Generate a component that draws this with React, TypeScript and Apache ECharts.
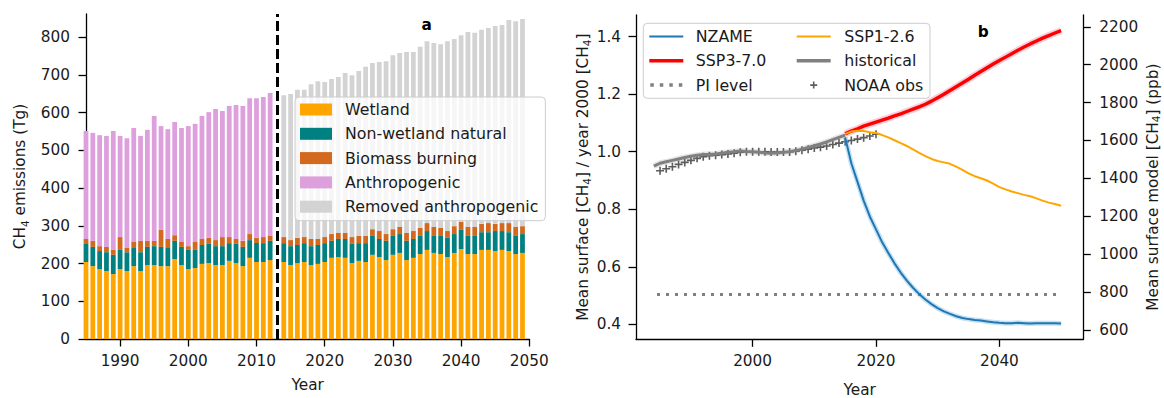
import React, { useEffect, useRef } from "react";
import * as echarts from "echarts";

const range = (a: number, b: number) => {
  const r: number[] = [];
  for (let i = a; i <= b; i++) r.push(i);
  return r;
};

// ---------- Panel a: CH4 emissions (Tg) ----------
const emissionYears = range(1985, 2050).map(String);
// historical years 1985-2012
const wetlandHist = [204, 193, 185, 180, 172, 185, 180, 193, 180, 196, 196, 193, 193, 212, 196, 185, 188, 199, 201, 196, 196, 207, 201, 193, 215, 204, 204, 209];
const nonWetlandHist = [48, 51, 48, 50, 51, 51, 50, 48, 50, 48, 50, 51, 48, 48, 48, 51, 48, 50, 51, 50, 50, 47, 51, 51, 47, 50, 50, 51];
const biomassHist = [13, 16, 13, 14, 13, 34, 11, 16, 30, 16, 14, 45, 24, 15, 13, 10, 21, 16, 16, 16, 24, 16, 13, 16, 16, 14, 16, 13];
const anthropogenicHist = [286, 286, 294, 294, 315, 268, 291, 302, 278, 294, 331, 275, 291, 300, 302, 318, 313, 326, 333, 347, 334, 347, 355, 357, 360, 370, 371, 379];
// projection years 2014-2049
const wetlandProj = [204, 196, 201, 204, 196, 199, 204, 215, 217, 215, 201, 207, 204, 223, 217, 209, 223, 228, 209, 215, 225, 236, 228, 225, 217, 228, 238, 225, 225, 236, 236, 233, 236, 233, 225, 228];
const nonWetlandProj = [50, 50, 48, 50, 50, 50, 50, 45, 48, 50, 51, 47, 50, 50, 48, 51, 50, 50, 51, 50, 48, 50, 45, 48, 51, 50, 51, 48, 48, 47, 47, 53, 50, 50, 48, 50];
const biomassProj = [16, 16, 19, 16, 19, 16, 16, 18, 16, 16, 18, 19, 19, 18, 21, 18, 18, 19, 21, 21, 21, 21, 24, 21, 18, 21, 21, 24, 24, 22, 24, 19, 21, 24, 24, 21];
const removedAnthropogenicProj = [376, 387, 392, 390, 410, 418, 411, 411, 413, 424, 429, 437, 448, 440, 448, 458, 461, 461, 479, 474, 480, 482, 487, 487, 503, 496, 495, 516, 514, 514, 517, 524, 525, 538, 545, 549];
const emissionTicks = [0, 100, 200, 300, 400, 500, 600, 700, 800];
const scenarioStartYear = "2013";

// ---------- Panel b: mean surface CH4 ----------
const obsYears = range(1985, 2020);
const noaaObs = [0.934, 0.941, 0.948, 0.956, 0.963, 0.970, 0.977, 0.983, 0.986, 0.988, 0.990, 0.992, 0.995, 0.998, 1.000, 1.000, 1.000, 1.000, 0.999, 0.999, 0.999, 0.999, 1.002, 1.005, 1.009, 1.013, 1.016, 1.020, 1.025, 1.030, 1.035, 1.039, 1.044, 1.049, 1.055, 1.061];
const histYears = range(1984, 2015);
const historical = [0.950, 0.960, 0.965, 0.970, 0.975, 0.980, 0.984, 0.988, 0.990, 0.990, 0.992, 0.995, 0.998, 1.000, 1.003, 1.001, 1.000, 0.998, 0.996, 0.995, 0.996, 0.998, 1.000, 1.004, 1.009, 1.015, 1.021, 1.027, 1.034, 1.042, 1.050, 1.058];
const scenYears = range(2015, 2050);
const nzame = [1.050, 0.960, 0.895, 0.830, 0.775, 0.730, 0.685, 0.648, 0.612, 0.580, 0.552, 0.527, 0.505, 0.486, 0.470, 0.456, 0.445, 0.436, 0.428, 0.422, 0.418, 0.415, 0.413, 0.410, 0.407, 0.405, 0.404, 0.404, 0.405, 0.404, 0.403, 0.404, 0.404, 0.404, 0.404, 0.403];
const ssp370 = [1.062, 1.072, 1.080, 1.089, 1.096, 1.103, 1.110, 1.117, 1.125, 1.132, 1.140, 1.148, 1.156, 1.165, 1.176, 1.188, 1.200, 1.213, 1.226, 1.239, 1.252, 1.266, 1.279, 1.292, 1.305, 1.317, 1.329, 1.341, 1.353, 1.364, 1.375, 1.385, 1.395, 1.404, 1.413, 1.421];
const ssp126 = [1.062, 1.070, 1.073, 1.072, 1.068, 1.065, 1.058, 1.050, 1.040, 1.030, 1.020, 1.008, 0.996, 0.985, 0.975, 0.968, 0.963, 0.958, 0.948, 0.937, 0.925, 0.915, 0.908, 0.900, 0.889, 0.877, 0.869, 0.862, 0.856, 0.850, 0.845, 0.838, 0.830, 0.823, 0.818, 0.812];
const piLevel = 0.504;
const piYears = [1984.5, 2049.5];
const ratioTicks = [0.4, 0.6, 0.8, 1.0, 1.2, 1.4];
const ppbTicks = [600, 800, 1000, 1200, 1400, 1600, 1800, 2000, 2200];
const yearTicksB = [2000, 2020, 2040];

const pairs = (xs: number[], ys: number[]) => xs.map((x, i) => [x, ys[i]]);
const nulls = (n: number) => Array(n).fill(null);

const TXT = "#1a1a1a";
const FS = 15.3;
const LFS = 15.8;
const FONT = "DejaVu Sans";
const axisLineStyle = { color: "#000", width: 1.3 };
const plain = (v: number) => String(v);

const lineIcon = (t: number) => `path://M0,0M34,12M0,${6 - t / 2}h34v${t}h-34z`;
const dotIcon = "path://M0,0M34,12M1,4.25h3.5v3.5h-3.5zM10.5,4.25h3.5v3.5h-3.5zM20,4.25h3.5v3.5h-3.5zM29.5,4.25h3.5v3.5h-3.5z";
const plusIcon = "path://M0,0M34,12M13.5,5.2h7v1.6h-7zM16.2,2.5h1.6v7h-1.6z";
const plusSymbol = "path://M0,3.2h8v1.6h-8zM3.2,0h1.6v8h-1.6z";

const richName = {
  n: { fontSize: FS, lineHeight: 20, color: TXT, fontFamily: FONT },
  s: { fontSize: 10.5, lineHeight: 12, verticalAlign: "bottom", color: TXT, fontFamily: FONT },
};
const richNameTight = {
  n: { fontSize: FS, lineHeight: 16, color: TXT, fontFamily: FONT },
  s: { fontSize: 10.5, lineHeight: 9, verticalAlign: "bottom", color: TXT, fontFamily: FONT },
};

export default function App() {
  const ref = useRef<HTMLDivElement>(null);
  useEffect(() => {
    if (!ref.current) return;
    const chart = echarts.init(ref.current, undefined, { renderer: "svg" });

    const wetland = [...wetlandHist, null, ...wetlandProj, null];
    const nonWetland = [...nonWetlandHist, null, ...nonWetlandProj, null];
    const biomass = [...biomassHist, null, ...biomassProj, null];
    const anthropogenic = [...anthropogenicHist, ...nulls(38)];
    const removed = [...nulls(29), ...removedAnthropogenicProj, null];

    const every10 = (_i: number, v: string) => Number(v) % 10 === 0;

    const barBase = {
      type: "bar",
      stack: "total",
      xAxisIndex: 0,
      yAxisIndex: 0,
      barWidth: "70%",
      clip: true,
      silent: true,
    };

    const option: any = {
      animation: false,
      textStyle: { fontFamily: FONT, color: TXT },
      grid: [
        { left: 86, right: 634.7, top: 14, bottom: 59, containLabel: false, outerBoundsMode: "none" },
        { left: 636, right: 80.7, top: 15, bottom: 58.7, containLabel: false, outerBoundsMode: "none" },
      ],
      xAxis: [
        {
          type: "category",
          gridIndex: 0,
          data: emissionYears,
          boundaryGap: false,
          axisLine: { lineStyle: axisLineStyle },
          axisTick: { interval: every10, length: 7.5, lineStyle: axisLineStyle },
          axisLabel: { interval: every10, margin: 14, fontSize: FS, color: TXT },
          splitLine: { show: false },
          name: "Year",
          nameLocation: "middle",
          nameGap: 38,
          nameTextStyle: { fontSize: FS, color: TXT },
        },
        {
          type: "value",
          gridIndex: 1,
          min: 1981.1,
          max: 2053.6,
          axisLine: { show: true, lineStyle: axisLineStyle },
          axisTick: { show: true, customValues: yearTicksB, length: 7.5, lineStyle: axisLineStyle },
          axisLabel: { customValues: yearTicksB, margin: 14, fontSize: FS, color: TXT, formatter: plain },
          splitLine: { show: false },
          name: "Year",
          nameLocation: "middle",
          nameGap: 43.5,
          nameTextStyle: { fontSize: FS, lineHeight: 14, color: TXT },
        },
      ],
      yAxis: [
        {
          type: "value",
          gridIndex: 0,
          min: 0,
          max: 861,
          axisLine: { show: true, lineStyle: axisLineStyle },
          axisTick: { show: true, customValues: emissionTicks, length: 7.5, lineStyle: axisLineStyle },
          axisLabel: { customValues: emissionTicks, margin: 16, fontSize: FS, color: TXT, formatter: plain },
          splitLine: { show: false },
          name: "{n|CH}{s|4}{n| emissions (Tg)}",
          nameLocation: "middle",
          nameRotate: 90,
          nameGap: 56,
          nameTextStyle: { rich: richName },
        },
        {
          type: "value",
          gridIndex: 1,
          position: "left",
          min: 0.3478,
          max: 1.4755,
          axisLine: { show: true, lineStyle: axisLineStyle },
          axisTick: { show: true, customValues: ratioTicks, length: 7.5, lineStyle: axisLineStyle },
          axisLabel: {
            customValues: ratioTicks,
            margin: 15,
            fontSize: FS,
            color: TXT,
            formatter: (v: number) => v.toFixed(1),
          },
          splitLine: { show: false },
          name: "{n|Mean surface [CH}{s|4}{n|] / year 2000 [CH}{s|4}{n|]}",
          nameLocation: "middle",
          nameRotate: 90,
          nameGap: 42,
          nameTextStyle: { rich: richName },
        },
        {
          type: "value",
          gridIndex: 1,
          position: "right",
          min: 551,
          max: 2262,
          axisLine: { show: true, lineStyle: axisLineStyle },
          axisTick: { show: true, customValues: ppbTicks, length: 7.5, lineStyle: axisLineStyle },
          axisLabel: { customValues: ppbTicks, margin: 16, fontSize: FS, color: TXT, formatter: plain },
          splitLine: { show: false },
          name: "{n|Mean surface model [CH}{s|4}{n|] (ppb)}",
          nameLocation: "middle",
          nameRotate: 90,
          nameGap: 62,
          nameTextStyle: { rich: richNameTight, padding: [0, 20, 0, 0] },
        },
      ],
      legend: [
        {
          orient: "vertical",
          left: 295,
          top: 97,
          padding: [4.5, 7, 6, 5],
          itemWidth: 32,
          itemHeight: 12,
          itemGap: 8.3,
          icon: "rect",
          selectedMode: false,
          backgroundColor: "rgba(255,255,255,0.8)",
          borderColor: "#cccccc",
          borderWidth: 1,
          borderRadius: 4,
          itemStyle: { borderWidth: 0 },
          textStyle: { fontSize: LFS, lineHeight: 15, color: TXT, padding: [0, 0, 0, 8] },
          data: ["Wetland", "Non-wetland natural", "Biomass burning", "Anthropogenic", "Removed anthropogenic"],
        },
        {
          orient: "vertical",
          left: 649.3,
          top: 28.5,
          padding: 0,
          itemWidth: 34,
          itemHeight: 12,
          itemGap: 8.3,
          selectedMode: false,
          itemStyle: { borderWidth: 0 },
          textStyle: { fontSize: LFS, lineHeight: 15, color: TXT, padding: [0, 0, 0, 7.5] },
          data: [
            { name: "NZAME", icon: lineIcon(2) },
            { name: "SSP3-7.0", icon: lineIcon(3.4) },
            { name: "PI level", icon: dotIcon },
          ],
        },
        {
          orient: "vertical",
          left: 796.7,
          top: 28.5,
          padding: 0,
          itemWidth: 34,
          itemHeight: 12,
          itemGap: 8.3,
          selectedMode: false,
          itemStyle: { borderWidth: 0 },
          textStyle: { fontSize: LFS, lineHeight: 15, color: TXT, padding: [0, 0, 0, 8.5] },
          data: [
            { name: "SSP1-2.6", icon: lineIcon(2) },
            { name: "historical", icon: lineIcon(3.4) },
            { name: "NOAA obs", icon: plusIcon },
          ],
        },
      ],
      graphic: [
        {
          type: "rect",
          shape: { x: 643.3, y: 23.3, width: 286.7, height: 75, r: 4 },
          style: { fill: "rgba(255,255,255,0.8)", stroke: "#cccccc", lineWidth: 1 },
          z: 1,
        },
        {
          type: "text",
          x: 426.7,
          y: 25.4,
          style: { text: "a", font: `bold ${FS}px "${FONT}"`, fill: "#000", textAlign: "center", textVerticalAlign: "middle" },
          z: 10,
        },
        {
          type: "text",
          x: 983.3,
          y: 32,
          style: { text: "b", font: `bold ${FS}px "${FONT}"`, fill: "#000", textAlign: "center", textVerticalAlign: "middle" },
          z: 10,
        },
      ],
      series: [
        {
          ...barBase,
          name: "Wetland",
          data: wetland,
          itemStyle: { color: "#FFA500" },
          markLine: {
            silent: true,
            symbol: "none",
            label: { show: false },
            lineStyle: { color: "#000", width: 3, type: [10, 4] },
            data: [{ xAxis: scenarioStartYear }],
          },
        },
        { ...barBase, name: "Non-wetland natural", data: nonWetland, itemStyle: { color: "#008080" } },
        { ...barBase, name: "Biomass burning", data: biomass, itemStyle: { color: "#D2691E" } },
        { ...barBase, name: "Anthropogenic", data: anthropogenic, itemStyle: { color: "#DDA0DD" } },
        { ...barBase, name: "Removed anthropogenic", data: removed, itemStyle: { color: "#D3D3D3" } },

        // uncertainty halos
        {
          type: "line", name: "historical range", xAxisIndex: 1, yAxisIndex: 1, silent: true,
          data: pairs(histYears, historical), symbol: "none",
          lineStyle: { color: "rgba(128,128,128,0.2)", width: 6 },
        },
        {
          type: "line", name: "SSP3-7.0 range", xAxisIndex: 1, yAxisIndex: 1, silent: true,
          data: pairs(scenYears, ssp370), symbol: "none",
          lineStyle: { color: "rgba(230,60,110,0.25)", width: 7 },
        },
        {
          type: "line", name: "NZAME range", xAxisIndex: 1, yAxisIndex: 1, silent: true,
          data: pairs(scenYears, nzame), symbol: "none",
          lineStyle: { color: "rgba(90,170,220,0.35)", width: 5 },
        },
        {
          type: "line", name: "historical", xAxisIndex: 1, yAxisIndex: 1, silent: true,
          data: pairs(histYears, historical), symbol: "none",
          itemStyle: { color: "#808080" },
          lineStyle: { color: "#808080", width: 3 },
        },
        {
          type: "line", name: "PI level", xAxisIndex: 1, yAxisIndex: 1, silent: true,
          data: piYears.map((x) => [x, piLevel]), symbol: "none",
          itemStyle: { color: "#808080" },
          lineStyle: { color: "#808080", width: 3, type: [3, 6] },
        },
        {
          type: "line", name: "NZAME", xAxisIndex: 1, yAxisIndex: 1, silent: true,
          data: pairs(scenYears, nzame), symbol: "none",
          itemStyle: { color: "#1f77b4" },
          lineStyle: { color: "#1f77b4", width: 2 },
        },
        {
          type: "line", name: "SSP3-7.0", xAxisIndex: 1, yAxisIndex: 1, silent: true,
          data: pairs(scenYears, ssp370), symbol: "none",
          itemStyle: { color: "#ff0000" },
          lineStyle: { color: "#ff0000", width: 3.4 },
        },
        {
          type: "line", name: "SSP1-2.6", xAxisIndex: 1, yAxisIndex: 1, silent: true,
          data: pairs(scenYears, ssp126), symbol: "none",
          itemStyle: { color: "#ffa500" },
          lineStyle: { color: "#ffa500", width: 2 },
        },
        {
          type: "scatter", name: "NOAA obs", xAxisIndex: 1, yAxisIndex: 1, silent: true,
          data: pairs(obsYears, noaaObs),
          symbol: plusSymbol, symbolSize: 8,
          itemStyle: { color: "#333333" },
        },
      ],
    };

    chart.setOption(option);
    return () => chart.dispose();
  }, []);

  return (
    <div
      ref={ref}
      style={{ position: "fixed", left: 0, top: 0, width: 1164, height: 398, background: "#fff" }}
    />
  );
}
